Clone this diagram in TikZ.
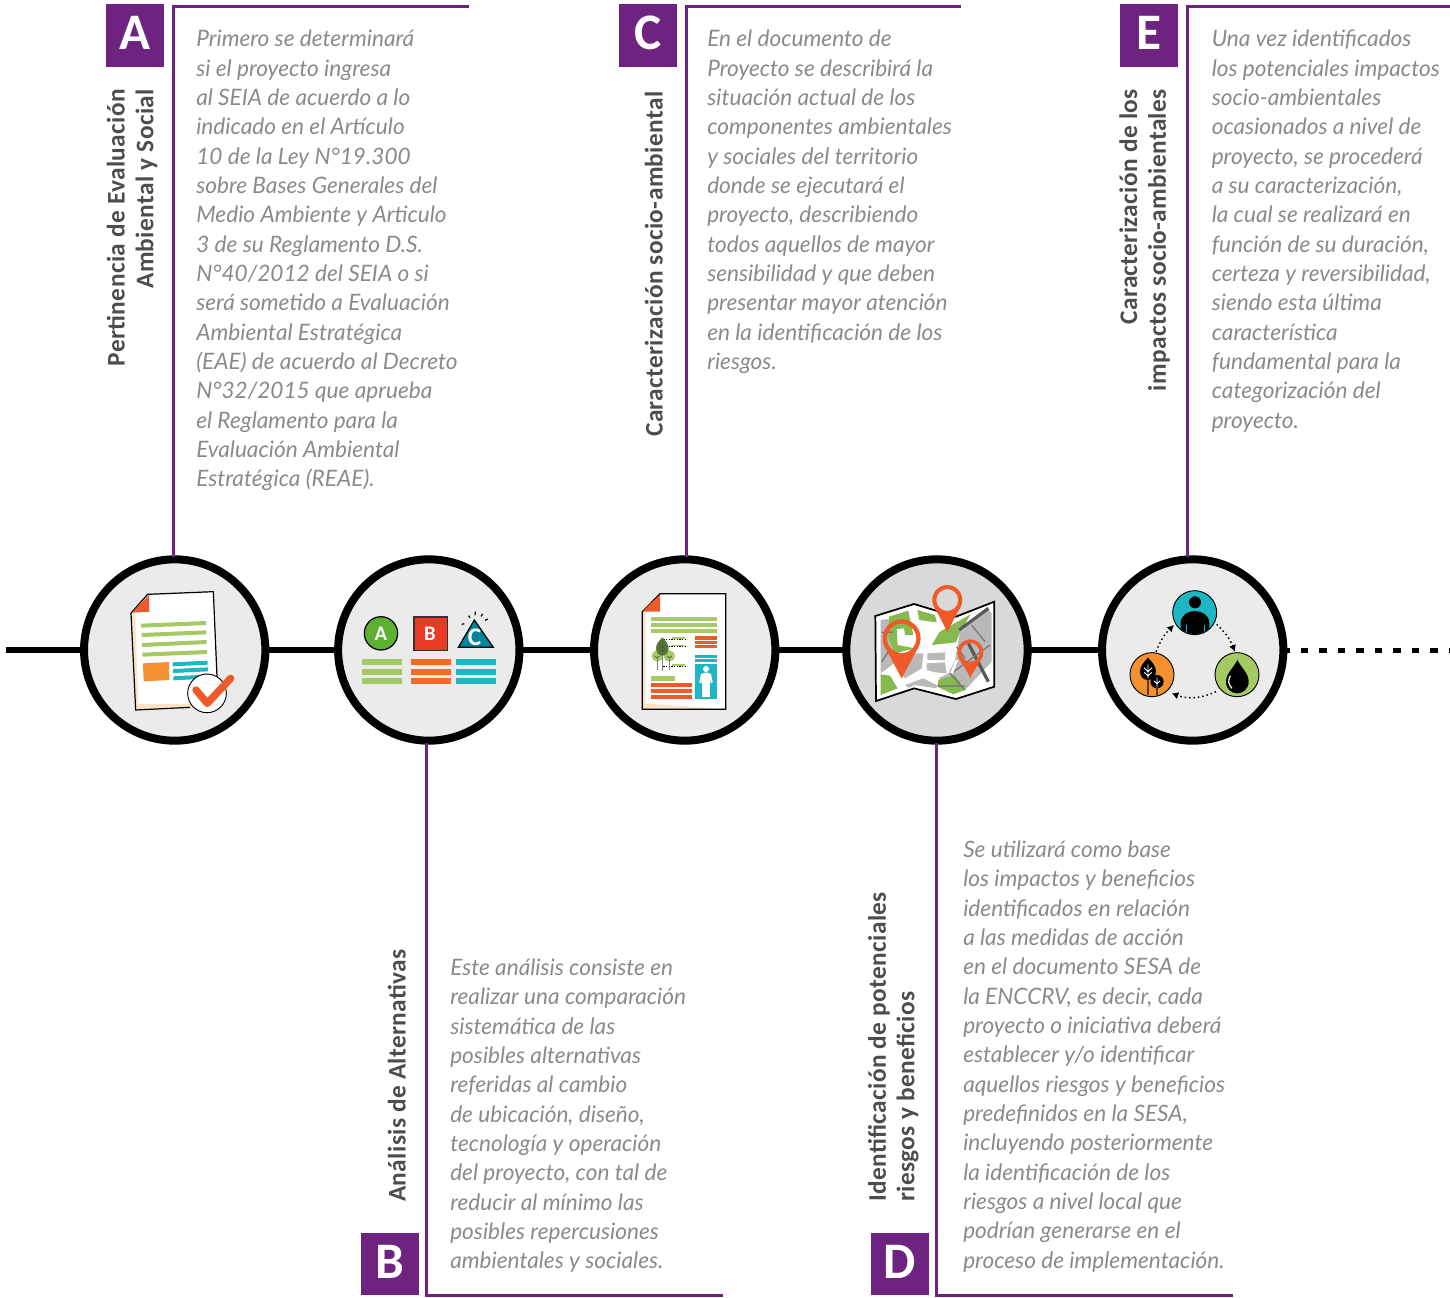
\documentclass[tikz,border=0pt]{standalone}
\usepackage{fontspec}
\usetikzlibrary{arrows.meta}
\setmainfont{Lato}
\newfontfamily\headf[LetterSpace=1.5]{Carlito}
\newfontfamily\badgef{Carlito}
\definecolor{purp}{HTML}{6E2380}
\definecolor{txtg}{HTML}{8A8A8A}
\definecolor{headg}{HTML}{4D4D4D}
\definecolor{disc}{HTML}{EBEBEB}
\definecolor{discd}{HTML}{D9D9D9}
\definecolor{ored}{HTML}{EE5A28}
\definecolor{lgreen}{HTML}{A5C963}
\definecolor{mgreen}{HTML}{86B94F}
\definecolor{teal}{HTML}{1FB6C4}
\definecolor{orng}{HTML}{F39130}
\definecolor{peach}{HTML}{FDE3C6}
\definecolor{mapgrey}{HTML}{B9B9B9}
\definecolor{igreen}{HTML}{5DB030}
\definecolor{ired}{HTML}{E83A25}
\definecolor{iteal}{HTML}{00859B}
\definecolor{barorange}{HTML}{F26B29}
\tikzset{
  px/.style={x=0.75pt,y=-0.75pt},
  zoomed/.style={shift={(#1)},x=0.25pt,y=-0.25pt},
  para/.style={anchor=north west,inner sep=0pt,align=left,text=txtg,font=\fontsize{16.97}{22}\selectfont\itshape},
  head/.style={inner sep=0pt,text=headg,rotate=90,font=\fontsize{19}{21.5}\selectfont\headf\bfseries},
  badge/.style={fill=purp,minimum width=43.5pt,minimum height=47pt,inner sep=0pt},
  badgetxt/.style={text=white,inner sep=0pt,anchor=base,font=\fontsize{38.4}{38.4}\selectfont\badgef\bfseries},
  stem/.style={draw=purp,line width=2.25pt},
  disc/.style={circle,draw=black,line width=6pt,fill=#1,minimum size=136pt,inner sep=0pt},
  disc/.default=disc,
  icontxt/.style={text=white,inner sep=0pt,font=\fontsize{15.5}{15.5}\selectfont\badgef\bfseries},
  fineoutline/.style={black,line width=0.9pt},
}
\begin{document}
\begin{tikzpicture}[px]
\useasboundingbox (0,0) rectangle (1450,1297);
\coordinate (L0) at (6,650);
\coordinate (LE) at (1450,650);
\draw[line width=4pt,black] (L0) -- (1100,650);
\draw[line width=3.75pt,black,dash pattern=on 5.75pt off 8.12pt] (1282.2,650) -- (LE);
\node[disc] (nA) at (174.7,650) {};
\node[disc] (nB) at (428.8,650) {};
\node[disc] (nC) at (684.7,650) {};
\node[disc=discd] (nD) at (937,650) {};
\node[disc] (nE) at (1192.7,650) {};
% stems
\coordinate (sA) at (469,6);\coordinate (sC) at (961,6);\coordinate (sE) at (1450,6);
\coordinate (sB) at (723,1295);\coordinate (sD) at (1233,1295);
\draw[stem] (173,557) |- (sA);
\draw[stem] (686,557) |- (sC);
\draw[stem] (1187.5,557) |- (sE);
\draw[stem] (426.5,743) |- (sB);
\draw[stem] (936.5,743) |- (sD);
% badges
\node[badge] (bA) at (135,35.5) {};
\node[badge] (bC) at (648,35.5) {};
\node[badge] (bE) at (1149,35.5) {};
\node[badge] (bB) at (390,1264) {};
\node[badge] (bD) at (900,1264) {};
\node[badgetxt] (lA) at (135,49) {A};
\node[badgetxt] (lC) at (648,49) {C};
\node[badgetxt] (lE) at (1149,49) {E};
\node[badgetxt] (lB) at (390,1278) {B};
\node[badgetxt] (lD) at (900,1278) {D};
% headings
\node[head,anchor=south east,align=right] (hA) at (157.5,89) {Pertinencia de Evaluación\\Ambiental y Social};
\node[head,anchor=south west,align=left] (hB) at (406,1202) {Análisis de Alternativas};
\node[head,anchor=south west,align=left] (hC) at (663,437) {Caracterización socio-ambiental};
\node[head,anchor=south west,align=left] (hD) at (919,1202) {Identificación de potenciales\\riesgos y beneficios};
\node[head,anchor=south east,align=right] (hE) at (1170,89) {Caracterización de los\\impactos socio-ambientales};
% paragraphs
\node[para] (tA) at (196,29.8) {Primero se determinará\\si el proyecto ingresa\\al SEIA de acuerdo a lo\\indicado en el Artículo\\10 de la Ley N°19.300\\sobre Bases Generales del\\Medio Ambiente y Articulo\\3 de su Reglamento D.S.\\N°40/2012 del SEIA o si\\será sometido a Evaluación\\Ambiental Estratégica\\(EAE) de acuerdo al Decreto\\N°32/2015 que aprueba\\el Reglamento para la\\Evaluación Ambiental\\Estratégica (REAE).};
\node[para] (tC) at (707,29.8) {En el documento de\\Proyecto se describirá la\\situación actual de los\\componentes ambientales\\y sociales del territorio\\donde se ejecutará el\\proyecto, describiendo\\todos aquellos de mayor\\sensibilidad y que deben\\presentar mayor atención\\en la identificación de los\\riesgos.};
\node[para] (tE) at (1211.5,29.8) {Una vez identificados\\los potenciales impactos\\socio-ambientales\\ocasionados a nivel de\\proyecto, se procederá\\a su caracterización,\\la cual se realizará en\\función de su duración,\\certeza y reversibilidad,\\siendo esta última\\característica\\fundamental para la\\categorización del\\proyecto.};
\node[para] (tB) at (450,958.5) {Este análisis consiste en\\realizar una comparación\\sistemática de las\\posibles alternativas\\referidas al cambio\\de ubicación, diseño,\\tecnología y operación\\del proyecto, con tal de\\reducir al mínimo las\\posibles repercusiones\\ambientales y sociales.};
\node[para] (tD) at (963,840.5) {Se utilizará como base\\los impactos y beneficios\\identificados en relación\\a las medidas de acción\\en el documento SESA de\\la ENCCRV, es decir, cada\\proyecto o iniciativa deberá\\establecer y/o identificar\\aquellos riesgos y beneficios\\predefinidos en la SESA,\\incluyendo posteriormente\\la identificación de los\\riesgos a nivel local que\\podrían generarse en el\\proceso de implementación.};
% ---- icons A and B (coordinates of the 3x crop at 70,545)
\begin{scope}[zoomed={70,545}]
\fill[peach] (183,204) -- (233,148) -- (430,140) -- (441,385) -- (360,487) -- (197,495) -- cycle;
\fill[white] (196,204) -- (233,150) -- (430,141) -- (441,400) -- (360,476) -- (205,477) -- cycle;
\draw[fineoutline] (183,204) -- (233,148) -- (430,140) -- (441,395);
\draw[fineoutline] (183,204) -- (197,495) -- (360,487);
\fill[ored] (185,203) -- (237,150) -- (238,200) -- cycle;
\fill[lgreen] (213,236) -- (408,228) -- (408,240) -- (213,248) -- cycle;
\fill[lgreen] (215,264) -- (409,256) -- (409,268) -- (215,276) -- cycle;
\fill[lgreen] (216,294) -- (410,285) -- (410,297) -- (216,306) -- cycle;
\fill[lgreen] (217,323) -- (411,315) -- (411,327) -- (217,335) -- cycle;
\fill[orng] (219,355) -- (297,351) -- (298,405) -- (221,409) -- cycle;
\fill[teal] (308,352) -- (413,347) -- (413,359) -- (308,364) -- cycle;
\fill[teal] (309,372) -- (414,367) -- (414,379) -- (309,384) -- cycle;
\fill[teal] (310,394) -- (390,390) -- (390,402) -- (310,406) -- cycle;
\draw[black,fill=white,line width=0.7pt] (411,445) circle (58);
\draw[ored,line width=5.5pt,line cap=round,line join=round] (378,435) -- (412,475) -- (482,400);
% B
\draw[fineoutline,fill=igreen] (933,265) circle (50);
\node[icontxt] (iA) at (933,267) {A};
\draw[black!80,fill=ired,line width=0.8pt] (1032,216) rectangle (1133,316);
\node[icontxt] (iB) at (1080,266) {B};
\draw[black,fill=iteal,line width=0.9pt] (1165,307) -- (1213,225) -- (1270,307) -- cycle;
\node[icontxt,font=\fontsize{19}{19}\selectfont\badgef\bfseries] (iC) at (1214,277) {C};
\draw[black,line width=0.9pt] (1175,238) -- (1183,236) (1196,212) -- (1200,218) (1216,200) -- (1216,210) (1238,207) -- (1233,214) (1253,222) -- (1245,226);
\foreach \y in {342,372,399}{
  \fill[lgreen] (876,\y) rectangle (996,\y+18);
  \fill[barorange] (1023,\y) rectangle (1143,\y+18);
  \fill[teal] (1158,\y) rectangle (1278,\y+18);}
\end{scope}
% ---- icons C and D (crop at 580,545)
\begin{scope}[zoomed={580,545}]
\fill[peach] (187,200) -- (240,146) -- (240,200) -- (197,200) -- (197,475) -- (437,493) -- (187,493) -- cycle;
\fill[white] (197,200) -- (240,146) -- (437,146) -- (437,493) -- (197,475) -- cycle;
\draw[fineoutline] (187,200) -- (240,146) -- (437,146) -- (437,493) -- (187,493) -- cycle;
\fill[ored] (187,200) -- (240,148) -- (240,200) -- cycle;
\foreach \y in {215,233,251} \fill[lgreen] (214,\y) rectangle (410,\y+13);
\foreach \y in {274,288,300} \fill[ored] (346,\y) rectangle (410,\y+10);
\foreach \y in {330,343} \fill[teal] (346,\y) rectangle (410,\y+9);
\fill[teal] (346,358) rectangle (410,461);
\fill[white] (378,372) circle (9);
\fill[white,rounded corners=2pt] (366,383) rectangle (390,420);
\fill[white] (367,415) rectangle (377,455);
\fill[white] (379,415) rectangle (389,455);
\draw[white,line width=1.6pt,line cap=round] (366,388) -- (361,412) (390,388) -- (395,412);
\foreach \y in {283,305,363}{
  \draw[black,line width=0.7pt,dash pattern=on 1pt off 1pt] (250,\y) -- (315,\y);
  \fill[lgreen] (275,\y-6) rectangle (315,\y-1);}
\fill[lgreen] (232,333) circle (17);
\fill[lgreen] (268,333) circle (17);
\draw[gray,line width=0.7pt] (231,335) -- (231,376) (247,320) -- (247,378) (268,335) -- (268,376);
\fill[mgreen!65!black] (247,277) .. controls (258,288) and (266,298) .. (266,310) .. controls (266,323) and (256,332) .. (247,332) .. controls (238,332) and (228,323) .. (228,310) .. controls (228,298) and (236,288) .. (247,277) -- cycle;
\draw[black!70,line width=0.45pt] (247,290) -- (247,328) (238,300) -- (247,310) -- (256,300) (239,311) -- (247,320) -- (255,311) (225,333) -- (231,339) -- (238,333) (261,333) -- (268,339) -- (275,333);
\fill[lgreen] (214,394) rectangle (284,407);
\foreach \y in {413,431,449} \fill[ored] (214,\y) rectangle (336,\y+13);
% map
\fill[white] (886,213) -- (1002,177) -- (1128,215) -- (1243,170) -- (1243,425) -- (1128,462) -- (1002,430) -- (888,468) -- cycle;
\draw[black,line width=1.3pt,line join=miter] (886,213) -- (1002,177) -- (1128,215) -- (1243,170) -- (1243,425) -- (1128,462) -- (1002,430) -- (888,468) -- cycle;
\fill[mapgrey] (902,225) -- (925,222) -- (955,330) -- (955,345) -- (902,385) -- cycle;
\fill[mapgrey] (1140,262) -- (1225,193) -- (1235,205) -- (1235,350) -- (1155,435) -- (1075,400) -- (1105,385) -- (1125,345) -- cycle;
\fill[mgreen] (927,215) -- (985,197) -- (1000,270) -- (975,270) -- (972,250) -- (950,252) -- (953,300) -- (1005,310) -- (945,325) -- (925,280) -- cycle;
\fill[mgreen] (1012,195) -- (1065,210) -- (1070,232) -- (1018,225) -- cycle;
\fill[mgreen] (1088,255) -- (1172,208) -- (1140,262) -- (1128,292) -- (1055,300) -- (1078,262) -- cycle;
\fill[mgreen] (902,388) -- (930,392) -- (953,430) -- (902,450) -- cycle;
\fill[mgreen] (1075,405) -- (1125,390) -- (1155,435) -- (1120,448) -- (1072,425) -- cycle;
\fill[mapgrey] (1005,325) -- (1030,325) -- (1025,370) -- (975,400) -- (940,345) -- cycle;
\fill[mapgrey] (1042,325) -- (1095,322) -- (1095,345) -- (1042,345) -- cycle;
\fill[mapgrey] (1040,355) -- (1095,352) -- (1100,385) -- (1065,382) -- (1040,375) -- cycle;
\fill[mapgrey] (975,420) -- (1030,400) -- (1070,420) -- (1070,430) -- (1005,420) -- (985,428) -- cycle;
\draw[black!65,line width=2.4pt] (1138,255) -- (1225,190) (1165,295) -- (1225,410);
\draw[black!55,line width=0.9pt] (1115,385) -- (1230,300) (1110,385) -- (1155,435) (1175,240) -- (1215,290) (1130,305) -- (1155,340) (1072,423) -- (1155,423) (905,350) -- (925,320) (905,262) -- (940,262);
\draw[white,line width=2pt] (1130,345) -- (1115,385);
\foreach \cx/\cy/\ro/\ri/\ty in {965/280/57/44/400,1102/165/45/33/262,1171/322/39/28/400}{
  \fill[ored,even odd rule] ({\cx+\ro*cos(150)},{\cy+\ro*sin(150)}) arc[start angle=150,end angle=390,radius=\ro] .. controls ({\cx+0.6*\ro},{\cy+0.95*\ro}) and ({\cx+0.2*\ro},{\ty-20}) .. (\cx,\ty) .. controls ({\cx-0.2*\ro},{\ty-20}) and ({\cx-0.6*\ro},{\cy+0.95*\ro}) .. ({\cx+\ro*cos(150)},{\cy+\ro*sin(150)}) -- cycle (\cx,\cy) circle (\ri);}
\end{scope}
% ---- icon E (crop at 1090,545)
\begin{scope}[zoomed={1090,545}]
\draw[black,fill=teal,line width=0.7pt] (314,203) circle (66);
\begin{scope}
\clip (314,203) circle (64);
\fill[black] (315,172) circle (18);
\fill[black] (272,270) -- (272,235) .. controls (272,210) and (295,198) .. (315,198) .. controls (335,198) and (358,210) .. (358,235) -- (358,270) -- cycle;
\draw[teal,line width=0.7pt] (288,240) -- (288,270) (342,240) -- (342,270);
\end{scope}
\draw[black,fill=orng,line width=0.7pt] (186,389) circle (66);
\draw[black!60!orng,line width=1.1pt] (174,400) -- (174,450) (201,425) -- (201,450);
\fill[black] (174,338) .. controls (186,350) and (198,365) .. (198,378) .. controls (198,395) and (186,405) .. (174,405) .. controls (160,405) and (150,395) .. (150,378) .. controls (150,365) and (162,350) .. (174,338) -- cycle;
\fill[black] (201,410) circle (20);
\draw[white,line width=0.7pt] (174,358) -- (174,400) (162,368) -- (174,380) -- (186,368) (163,382) -- (174,393) -- (185,382) (201,398) -- (201,428) (192,408) -- (201,416) -- (210,408);
\draw[black,fill=lgreen,line width=0.7pt] (441,389) circle (66);
\fill[black] (442,345) .. controls (455,370) and (476,385) .. (476,410) .. controls (476,432) and (458,445) .. (442,445) .. controls (424,445) and (408,432) .. (408,410) .. controls (408,385) and (430,370) .. (442,345) -- cycle;
\draw[white,line width=0.9pt] (421,392) .. controls (413,405) and (415,420) .. (426,430);
\coordinate (e1a) at (198,320);\coordinate (e1b) at (252,240);
\coordinate (e2a) at (380,238);\coordinate (e2b) at (435,320);
\coordinate (e3a) at (378,440);\coordinate (e3b) at (245,445);
\tikzset{loop arrow/.style={black,line width=1.1pt,dash pattern=on 1.1pt off 2.2pt,-{Latex[length=5pt,width=5.5pt]}}}
\draw[loop arrow] (e1a) to[bend left=12] (e1b);
\draw[loop arrow] (e2a) to[bend left=12] (e2b);
\draw[loop arrow] (e3a) to[bend left=22] (e3b);
\end{scope}
\end{tikzpicture}
\end{document}
